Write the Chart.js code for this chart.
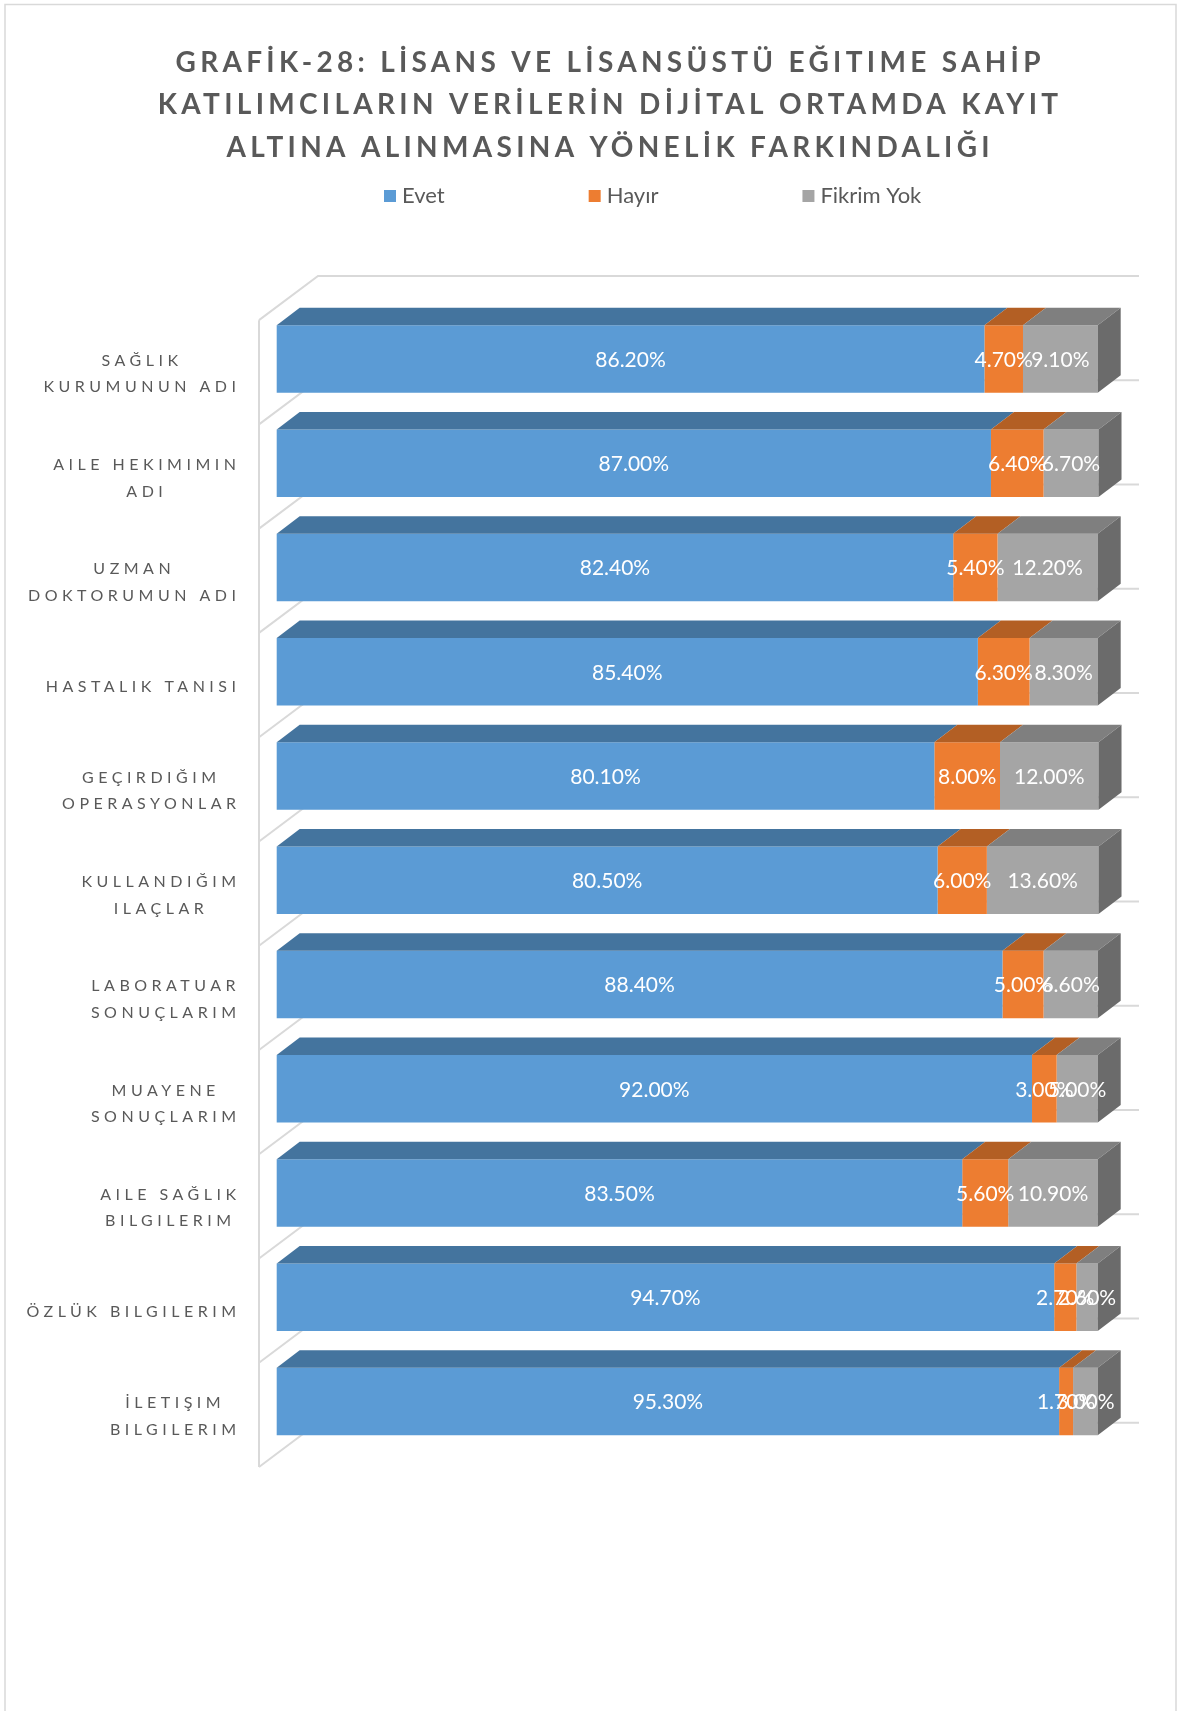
<!DOCTYPE html>
<html>
<head>
<meta charset="utf-8">
<script src="https://cdn.jsdelivr.net/npm/chart.js@4.4.1/dist/chart.umd.min.js"></script>
<style>
html,body{margin:0;padding:0;background:#ffffff;}
canvas{display:block;}
</style>
</head>
<body>
<canvas id="c" width="1178" height="1711" style="width:1178px;height:1711px"></canvas>
<script>
// ---------- DATA ----------
const categories = [
  ['SAĞLIK', 'KURUMUNUN ADI'],
  ['AILE HEKIMIMIN', 'ADI'],
  ['UZMAN', 'DOKTORUMUN ADI'],
  'HASTALIK TANISI',
  ['GEÇIRDIĞIM', 'OPERASYONLAR'],
  ['KULLANDIĞIM', 'ILAÇLAR'],
  ['LABORATUAR', 'SONUÇLARIM'],
  ['MUAYENE', 'SONUÇLARIM'],
  ['AILE SAĞLIK', 'BILGILERIM'],
  'ÖZLÜK BILGILERIM',
  ['İLETIŞIM', 'BILGILERIM']
];
const evet      = [86.2, 87.0, 82.4, 85.4, 80.1, 80.5, 88.4, 92.0, 83.5, 94.7, 95.3];
const hayir     = [4.7, 6.4, 5.4, 6.3, 8.0, 6.0, 5.0, 3.0, 5.6, 2.7, 1.7];
const fikrimYok = [9.1, 6.7, 12.2, 8.3, 12.0, 13.6, 6.6, 5.0, 10.9, 2.6, 3.0];
const seriesNames = ['Evet', 'Hayır', 'Fikrim Yok'];
const titleLines = [
  'GRAFİK-28: LİSANS VE LİSANSÜSTÜ EĞITIME SAHİP',
  'KATILIMCILARIN VERİLERİN DİJİTAL ORTAMDA KAYIT',
  'ALTINA ALINMASINA YÖNELİK FARKINDALIĞI'
];

// ---------- STYLE ----------
const frontColors = ['#5B9BD5', '#ED7D31', '#A5A5A5'];
const topColors   = ['#44749E', '#B35F24', '#7F7F7F'];
const sideColor   = '#6B6B6B';
const wallColor   = '#D9D9D9';
const textColor   = '#595959';
const FONT = 'Lato, "Open Sans", "DejaVu Sans", sans-serif';

const TITLE_LS = 4.3;    // title letter spacing
const TITLE_CX = 608;    // title centre
const TICK_LS = 4.5;     // category label letter spacing
const DX = 23, DY = 17.5;          // bar depth
const WALL_FRONT = 17.7, WALL_BACK = 41.3, SLOPE = 0.75;
const LABEL_GAP = 40.7;  // gap between label block right edge and plot
const LABEL_DY = 15;     // category labels sit on the front plane

const PAD_RIGHT = 80.3;
const PAD_LEFT = 0;
const PLOT_LEFT = 276.7;

function wrap(obj, key, flag, fn) {
  if (!obj || obj[flag]) return;
  const orig = obj[key];
  obj[key] = function (...args) { return fn.call(this, orig, args); };
  obj[flag] = true;
}

const threeD = {
  id: 'threeD',
  beforeDraw(chart) {
    const {ctx, chartArea: a} = chart;
    const xs = chart.scales.x, ys = chart.scales.y;

    // letter-spaced title (centred on TITLE_CX) and category labels
    wrap(chart.titleBlock, 'draw', '_lsPatched', function (orig, args) {
      const c = this.ctx || chart.ctx;
      c.save();
      c.letterSpacing = TITLE_LS + 'px';
      const boxCx = (this.left + this.right) / 2;
      c.translate(TITLE_CX + TITLE_LS / 2 - boxCx, 0);
      orig.apply(this, args);
      c.restore();
    });
    wrap(ys, 'drawLabels', '_lsPatched', function (orig, args) {
      const c = this.ctx;
      c.save(); c.letterSpacing = TICK_LS + 'px';
      orig.apply(this, args);
      c.restore();
    });

    // right-aligned blocks, centred lines
    const items = ys.getLabelItems(a);
    const labelRight = a.left - LABEL_GAP;
    ctx.save();
    ctx.letterSpacing = TICK_LS + 'px';
    items.forEach(it => {
      ctx.font = it.font.string;
      const lines = Array.isArray(it.label) ? it.label : [it.label];
      const mw = Math.max(...lines.map(l => ctx.measureText(l).width));
      it.options.textAlign = 'center';
      const ty = it.options.translation[1];
      it.options.translation = [labelRight + TICK_LS - mw / 2, ty + LABEL_DY];
    });
    ctx.restore();

    // outer chart border
    ctx.save();
    ctx.strokeStyle = wallColor;
    ctx.lineWidth = 1.5;
    ctx.strokeRect(5, 4.5, 1171, 1780);

    // 3D walls
    const x0 = xs.getPixelForValue(xs.min);
    const x1 = xs.getPixelForValue(xs.max);
    const n = ys.ticks.length;
    const step = ys.getPixelForTick(1) - ys.getPixelForTick(0);
    const bounds = [];
    for (let i = 0; i < n; i++) bounds.push(ys.getPixelForTick(i) - step / 2);
    bounds.push(ys.getPixelForTick(n - 1) + step / 2);
    const fx = x0 - WALL_FRONT, fy = WALL_FRONT * SLOPE;
    const bx = WALL_BACK, by = WALL_BACK * SLOPE;
    ctx.lineWidth = 2;
    ctx.strokeStyle = wallColor;
    ctx.beginPath();
    ctx.moveTo(fx, bounds[0] + fy);
    ctx.lineTo(fx, bounds[n] + fy);
    bounds.forEach(b => {
      ctx.moveTo(fx, b + fy);
      ctx.lineTo(x0 + bx, b - by);
      ctx.lineTo(x1 + bx, b - by);
    });
    ctx.stroke();
    ctx.restore();
  },
  afterDatasetsDraw(chart) {
    const {ctx} = chart;
    const last = chart.data.datasets.length - 1;
    ctx.save();
    // top faces & side face
    chart.data.datasets.forEach((ds, di) => {
      const meta = chart.getDatasetMeta(di);
      meta.data.forEach(el => {
        const p = el.getProps(['x', 'y', 'base', 'height'], true);
        const l = Math.min(p.x, p.base), r = Math.max(p.x, p.base);
        const t = p.y - p.height / 2, b = p.y + p.height / 2;
        ctx.fillStyle = topColors[di];
        ctx.beginPath();
        ctx.moveTo(l, t); ctx.lineTo(l + DX, t - DY);
        ctx.lineTo(r + DX, t - DY); ctx.lineTo(r, t);
        ctx.closePath(); ctx.fill();
        if (di === last) {
          ctx.fillStyle = sideColor;
          ctx.beginPath();
          ctx.moveTo(r, t); ctx.lineTo(r + DX, t - DY);
          ctx.lineTo(r + DX, b - DY); ctx.lineTo(r, b);
          ctx.closePath(); ctx.fill();
        }
      });
    });
    // data labels
    ctx.font = '21px ' + FONT;
    ctx.fillStyle = '#FFFFFF';
    ctx.textAlign = 'center';
    ctx.textBaseline = 'middle';
    chart.data.datasets.forEach((ds, di) => {
      const meta = chart.getDatasetMeta(di);
      meta.data.forEach((el, i) => {
        const p = el.getProps(['x', 'y', 'base'], true);
        ctx.fillText(ds.data[i].toFixed(2) + '%', (p.x + p.base) / 2, p.y + 1);
      });
    });
    ctx.restore();
  },
  afterDraw(chart) {
    // legend
    const {ctx} = chart;
    ctx.save();
    ctx.font = '22px ' + FONT;
    ctx.textBaseline = 'middle';
    ctx.textAlign = 'left';
    let x = 384;
    const y = 196;
    chart.data.datasets.forEach(ds => {
      ctx.fillStyle = ds.backgroundColor;
      ctx.fillRect(x, y - 6, 12, 12);
      ctx.fillStyle = textColor;
      ctx.fillText(ds.label, x + 18, y);
      x += 18 + ctx.measureText(ds.label).width + 144;
    });
    ctx.restore();
  }
};

const seriesData = [evet, hayir, fikrimYok];

new Chart(document.getElementById('c'), {
  type: 'bar',
  data: {
    labels: categories,
    datasets: seriesNames.map((name, i) => ({
      label: name,
      data: seriesData[i],
      backgroundColor: frontColors[i],
      borderWidth: 0,
      barPercentage: 0.648,
      categoryPercentage: 1.0,
      clip: false
    }))
  },
  options: {
    indexAxis: 'y',
    responsive: false,
    animation: false,
    devicePixelRatio: 1,
    layout: { padding: { top: 0, bottom: 257.3, left: PAD_LEFT, right: PAD_RIGHT } },
    scales: {
      x: { stacked: true, min: 0, max: 100, display: false },
      y: {
        stacked: true,
        grid: { display: false },
        border: { display: false },
        ticks: {
          color: textColor,
          padding: 0,
          font: { family: FONT, size: 16, lineHeight: 1.66 }
        },
        afterFit(s) { s.width = PLOT_LEFT - PAD_LEFT; }
      }
    },
    plugins: {
      legend: { display: false },
      tooltip: { enabled: false },
      title: {
        display: true,
        text: titleLines,
        color: textColor,
        font: { family: FONT, size: 28, weight: 'bold', lineHeight: 1.52 },
        padding: { top: 41.5, bottom: 137.7 }
      }
    }
  },
  plugins: [threeD]
});
</script>
</body>
</html>
